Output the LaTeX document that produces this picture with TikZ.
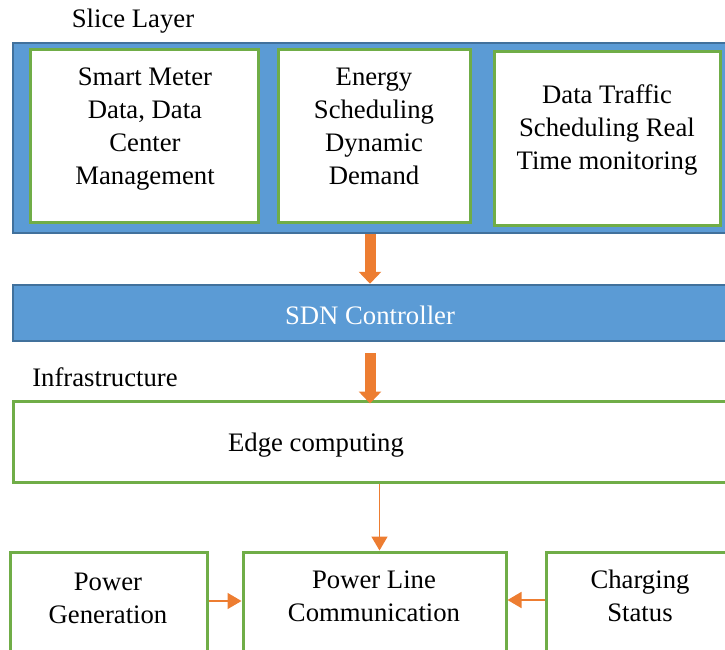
\documentclass[tikz,border=0pt]{standalone}
\usepackage{fontspec}
\setmainfont{Liberation Serif}
\usepackage{xcolor}
\usetikzlibrary{arrows.meta}
\definecolor{sliceblue}{HTML}{5B9BD5}
\definecolor{frameblue}{HTML}{41719C}
\definecolor{boxgreen}{HTML}{70AD47}
\definecolor{floworange}{HTML}{ED7D31}
\tikzset{
  layer/.style={draw=frameblue, fill=sliceblue, line width=2.5pt, minimum width=724pt},
  greenbox/.style={draw=boxgreen, fill=white, line width=3pt},
  boxtext/.style={align=center, inner sep=0pt, font=\fontsize{26.7}{33}\selectfont},
  bigarrow/.style={draw=floworange, line width=11pt, -{Triangle[width=22pt,length=12pt]}},
  thinarrow/.style={draw=floworange, line width=1.6pt, -{Triangle[width=16pt,length=14pt]}}
}

\begin{document}
\begin{tikzpicture}[x=1pt,y=-1pt]
\useasboundingbox (0,0) rectangle (725,650);
\clip (0,0) rectangle (725,650);
% slice layer
\node[boxtext] (slicelbl) at (133,21) {Slice Layer};
\node[layer, minimum height=190pt] (slice) at (375,138) {};
\node[greenbox, minimum width=228pt, minimum height=172pt] (meter) at (144,136) {};
\node[greenbox, minimum width=192pt, minimum height=172pt] (energy) at (374,136) {};
\node[greenbox, minimum width=226pt, minimum height=173pt] (traffic) at (607,138.5) {};
\node[boxtext] (metertxt) at (145,129) {Smart Meter\\Data, Data\\Center\\Management};
\node[boxtext] (energytxt) at (374,126) {Energy\\Scheduling\\Dynamic\\Demand};
\node[boxtext] (traffictxt) at (607,130) {Data Traffic\\Scheduling Real\\Time monitoring};
%
% controller
\node[layer, minimum height=56pt] (sdn) at (375,313) {};
\node[boxtext, text=white] (sdntxt) at (370,315) {SDN Controller};
%
% infrastructure
\node[boxtext] (infralbl) at (105,377) {Infrastructure};
\node[greenbox, minimum width=724pt, minimum height=81pt] (edge) at (375,441.5) {};
\node[boxtext] (edgetxt) at (316,445) {Edge computing};
%
\node[greenbox, minimum width=197pt, minimum height=118pt] (gen) at (108.5,611) {};
\node[greenbox, minimum width=263pt, minimum height=118pt] (plc) at (374.5,611) {};
\node[greenbox, minimum width=194pt, minimum height=118pt] (charge) at (643,611) {};
\node[boxtext] (gentxt) at (108,598) {Power\\Generation};
\node[boxtext] (plctxt) at (374,596) {Power Line\\Communication};
\node[boxtext] (chargetxt) at (640,596) {Charging\\Status};
%
\coordinate (genout) at ([yshift=10pt]gen.east);
\coordinate (chargeout) at ([yshift=11pt]charge.west);
%
\draw[bigarrow] (slice.south -| sdntxt) -- (sdn.north -| sdntxt);
\draw[bigarrow, shorten <=11pt, shorten >=-4pt] (sdn.south -| sdntxt) -- (edge.north -| sdntxt);
\draw[thinarrow] ([xshift=5pt]edge.south -| plc.north) -- ([xshift=5pt]plc.north);
\draw[thinarrow] (genout) -- (genout -| plc.west);
\draw[thinarrow] (chargeout) -- (chargeout -| plc.east);
\end{tikzpicture}
\end{document}
